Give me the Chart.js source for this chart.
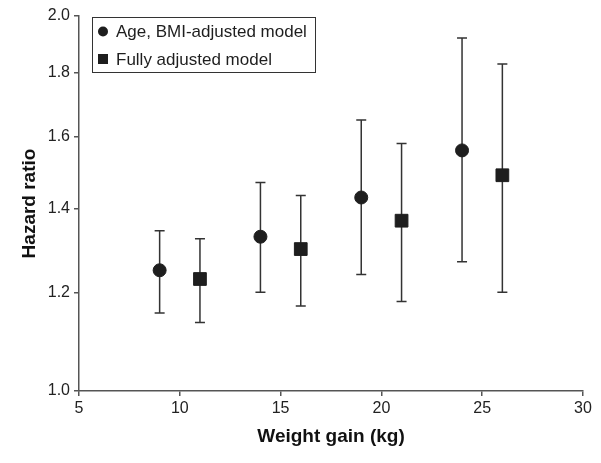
<!DOCTYPE html>
<html>
<head>
<meta charset="utf-8">
<script src="https://cdn.jsdelivr.net/npm/chart.js@4/dist/chart.umd.min.js"></script>
<style>
    html, body { margin: 0; padding: 0; background: #fff; }
    #wrap { width: 601px; height: 463px; }
</style>
</head>
<body>
<div id="wrap"><canvas id="hrChart" width="601" height="463"></canvas></div>
<script>
const seriesLabels = ["Age, BMI-adjusted model", "Fully adjusted model"];

const ageGain = [9, 14, 19, 24];
const ageHR = [1.25, 1.33, 1.43, 1.56];
const ageLow = [1.155, 1.20, 1.24, 1.27];
const ageHigh = [1.345, 1.47, 1.65, 1.92];

const fullGain = [11, 16, 21, 26];
const fullHR = [1.23, 1.30, 1.37, 1.49];
const fullLow = [1.135, 1.17, 1.18, 1.20];
const fullHigh = [1.325, 1.435, 1.58, 1.83];

const yTicks = [1.0, 1.2, 1.4, 1.6, 1.8, 2.0];
const xTicks = [5, 10, 15, 20, 25, 30];

const fontFamily = '"Liberation Sans", Arial, sans-serif';
const ink = "#1e1e1e";
const axisColor = "#555";

function toPoints(xs, ys, lo, hi) {
    return xs.map((x, i) => ({ x: x, y: ys[i], lo: lo[i], hi: hi[i] }));
}

// error bars, drawn under the markers
const errorBars = {
    id: "errorBars",
    beforeDatasetsDraw(chart) {
        const ctx = chart.ctx;
        const xs = chart.scales.x;
        const ys = chart.scales.y;
        ctx.save();
        ctx.strokeStyle = "#333";
        ctx.lineWidth = 1.5;
        chart.data.datasets.forEach(ds => {
            ds.data.forEach(p => {
                const px = xs.getPixelForValue(p.x);
                const top = ys.getPixelForValue(p.hi);
                const bot = ys.getPixelForValue(p.lo);
                ctx.beginPath();
                ctx.moveTo(px, top);
                ctx.lineTo(px, bot);
                ctx.moveTo(px - 5, top);
                ctx.lineTo(px + 5, top);
                ctx.moveTo(px - 5, bot);
                ctx.lineTo(px + 5, bot);
                ctx.stroke();
            });
        });
        ctx.restore();
    }
};

// boxed legend inside the plot, top left
const boxLegend = {
    id: "boxLegend",
    afterDraw(chart) {
        const ctx = chart.ctx;
        ctx.save();
        ctx.strokeStyle = "#333";
        ctx.lineWidth = 1;
        ctx.strokeRect(92.5, 17.5, 223, 55);
        ctx.font = "17px " + fontFamily;
        ctx.textBaseline = "middle";
        ctx.fillStyle = ink;
        const rows = [31.5, 59];
        chart.data.datasets.forEach((ds, i) => {
            const y = rows[i];
            ctx.beginPath();
            if (ds.pointStyle === "rect") {
                ctx.rect(98, y - 5, 10, 10);
            } else {
                ctx.arc(103, y, 5, 0, Math.PI * 2);
            }
            ctx.fill();
            ctx.fillText(ds.label, 116, y + 1);
        });
        ctx.restore();
    }
};

new Chart(document.getElementById("hrChart"), {
    type: "scatter",
    data: {
        datasets: [
            {
                label: seriesLabels[0],
                data: toPoints(ageGain, ageHR, ageLow, ageHigh),
                pointStyle: "circle",
                pointRadius: 6.5,
                borderWidth: 1,
                backgroundColor: ink,
                borderColor: ink
            },
            {
                label: seriesLabels[1],
                data: toPoints(fullGain, fullHR, fullLow, fullHigh),
                pointStyle: "rect",
                pointRadius: 9,
                borderWidth: 1,
                backgroundColor: ink,
                borderColor: ink
            }
        ]
    },
    options: {
        responsive: false,
        animation: false,
        layout: { padding: { top: 16, right: 18, left: 0, bottom: 0 } },
        plugins: {
            legend: { display: false },
            tooltip: { enabled: false }
        },
        scales: {
            x: {
                type: "linear",
                min: 5,
                max: 30,
                afterBuildTicks: s => { s.ticks = xTicks.map(v => ({ value: v })); },
                afterFit: s => { s.height = 72; },
                grid: { drawOnChartArea: false, color: axisColor, tickLength: 5, lineWidth: 1.5 },
                border: { color: axisColor, width: 1.5 },
                ticks: { color: "#222", font: { family: fontFamily, size: 16 }, padding: 3 },
                title: {
                    display: true,
                    text: "Weight gain (kg)",
                    color: "#111",
                    font: { family: fontFamily, size: 19, weight: "bold" },
                    padding: { top: 0, bottom: 15 }
                }
            },
            y: {
                type: "logarithmic",
                min: 1,
                max: 2,
                afterBuildTicks: s => { s.ticks = yTicks.map(v => ({ value: v })); },
                afterFit: s => { s.width = 79; },
                grid: { drawOnChartArea: false, color: axisColor, tickLength: 5, lineWidth: 1.5 },
                border: { color: axisColor, width: 1.5 },
                ticks: {
                    color: "#222",
                    font: { family: fontFamily, size: 16 },
                    padding: 4,
                    callback: v => Number(v).toFixed(1)
                },
                title: {
                    display: true,
                    text: "Hazard ratio",
                    color: "#111",
                    font: { family: fontFamily, size: 19, weight: "bold" },
                    padding: { top: 18, bottom: 0 }
                }
            }
        }
    },
    plugins: [errorBars, boxLegend]
});
</script>
</body>
</html>
